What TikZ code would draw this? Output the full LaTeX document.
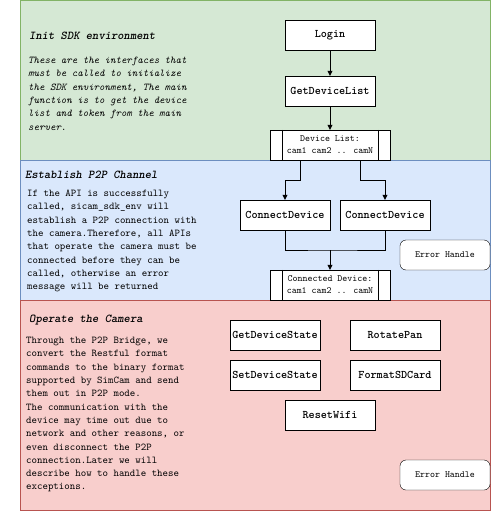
\documentclass[tikz,border=0pt]{standalone}
\usepackage{fontspec}
\usetikzlibrary{arrows.meta,positioning}
\definecolor{initfill}{HTML}{D5E8D4}
\definecolor{initline}{HTML}{82B366}
\definecolor{p2pfill}{HTML}{DAE8FC}
\definecolor{p2pline}{HTML}{6C8EBF}
\definecolor{camfill}{HTML}{F8CECC}
\definecolor{camline}{HTML}{B85450}
\begin{document}
\begin{tikzpicture}[x=1pt,y=-1pt,
    apibox/.style={draw,fill=white,minimum width=90pt,minimum height=30pt,
      inner xsep=1pt,font=\ttfamily\bfseries\fontsize{11.6}{13}\selectfont},
    listbox/.style={draw,fill=white,minimum width=120pt,minimum height=30pt,
      align=center,font=\ttfamily\fontsize{9.5}{12}\selectfont},
    errbox/.style={draw,fill=white,rounded corners=6pt,minimum width=90pt,
      minimum height=30pt,font=\ttfamily\fontsize{9.5}{11}\selectfont},
    paneltitle/.style={anchor=west,inner sep=0pt,
      font=\ttfamily\bfseries\itshape\fontsize{12}{13}\selectfont},
    paneltext/.style={anchor=north west,inner sep=0pt,align=left,
      font=\ttfamily\fontsize{10.4}{13.3}\selectfont},
    flow/.style={-{Triangle[length=5pt,width=5pt]}}]
  \useasboundingbox (0,0) rectangle (492,511);
  \draw[initline,fill=initfill] (20.5,0.5) rectangle (490,160);
  \draw[p2pline,fill=p2pfill] (20.5,160) rectangle (490,300);
  \draw[camline,fill=camfill] (20.5,300) rectangle (490,510);

  \node[paneltitle] (inittitle) at (29,36) {Init SDK environment};
  \node[paneltext,font=\ttfamily\itshape\fontsize{10.4}{13.3}\selectfont] (inittext) at (28,57)
    {These are the interfaces that\\must be called to initialize\\the SDK environment, The main\\
     function is to get the device\\list and token from the main\\server.};
  \node[paneltitle] (p2ptitle) at (25,175) {Establish P2P Channel};
  \node[paneltext] (p2ptext) at (27,190)
    {If the API is successfully\\called, sicam\_sdk\_env will\\establish a P2P connection with\\
     the camera.Therefore, all APIs\\that operate the camera must be\\connected before they can be\\
     called, otherwise an error\\message will be returned};
  \node[paneltitle] (camtitle) at (29,320) {Operate the Camera};
  \node[paneltext] (camtext) at (26,337)
    {Through the P2P Bridge, we\\convert the Restful format\\commands to the binary format\\
     supported by SimCam and send\\them out in P2P mode.\\The communication with the\\
     device may time out due to\\network and other reasons, or\\even disconnect the P2P\\
     connection.Later we will\\describe how to handle these\\exceptions.};

  \node[apibox] (login) at (330,35) {Login};
  \node[apibox] (getlist) at (330,91) {GetDeviceList};
  \node[listbox] (devlist) at (330,145) {Device List:\\cam1 cam2 .. camN};
  \node[apibox] (conn1) at (285,215) {ConnectDevice};
  \node[apibox] (conn2) at (385,215) {ConnectDevice};
  \node[errbox] (err1) at (445,255) {Error Handle};
  \node[listbox] (connlist) at (330,285) {Connected Device:\\cam1 cam2 .. camN};
  \node[apibox] (getstate) at (275,335) {GetDeviceState};
  \node[apibox] (rotate) at (395,335) {RotatePan};
  \node[apibox] (setstate) at (275,375) {SetDeviceState};
  \node[apibox] (format) at (395,375) {FormatSDCard};
  \node[apibox] (reset) at (330,415) {ResetWifi};
  \node[errbox] (err2) at (445,475) {Error Handle};

  \foreach \lst in {devlist,connlist}{
    \draw ([xshift=12pt]\lst.north west) -- ([xshift=12pt]\lst.south west);
    \draw ([xshift=-12pt]\lst.north east) -- ([xshift=-12pt]\lst.south east);
  }
  \draw[flow] (login) -- (getlist);
  \draw[flow] (getlist) -- (devlist);
  \draw[flow] ([xshift=-30pt]devlist.south) -- ++(0,20) -| (conn1);
  \draw[flow] ([xshift=30pt]devlist.south) -- ++(0,20) -| (conn2);
  \coordinate (join) at (330,250);
  \draw (conn1.south) |- (join) -| (conn2.south);
  \draw[flow] (join) -- (connlist);
\end{tikzpicture}
\end{document}
